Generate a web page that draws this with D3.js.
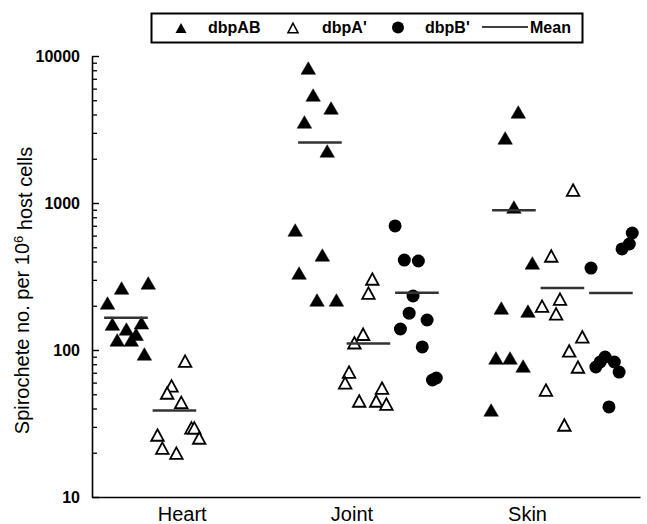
<!DOCTYPE html>
<html>
<head>
<meta charset="utf-8">
<script src="https://cdn.jsdelivr.net/npm/d3@7"></script>
<style>
  body { margin: 0; background: #fff; }
  text { font-family: "Liberation Sans", Arial, Helvetica, sans-serif; }
</style>
</head>
<body>
<svg id="chart" width="647" height="524"></svg>
<script>
// categories and where their labels sit on the x axis (in plot units)
var categories = ["Heart", "Joint", "Skin"];
var categoryTicks = [2.15, 5.65, 9.27];
var groupStart = [1, 5, 9];

var seriesNames = ["dbpAB", "dbpA'", "dbpB'"];

var yTicks = [10, 100, 1000, 10000];

// values (spirochetes per 10^6 host cells)
var heartAB = [286, 264, 209, 150, 139, 153, 128, 117, 117, 94];
var heartA = [84, 57, 51, 44, 29.5, 29.5, 25.2, 26.4, 21.5, 19.9];
var jointAB = [8280, 5430, 4430, 3560, 2260, 655, 443, 334, 219, 219];
var jointA = [304, 244, 128, 112, 70.8, 59.7, 55.1, 45, 45, 42.9];
var jointB = [698, 409, 403, 233, 178, 160, 139, 105, 62.5, 64.5];
var skinAB = [4160, 2770, 939, 391, 193, 184, 88.3, 88.3, 77.8, 39.1];
var skinA = [1225, 436, 222, 199, 176, 123, 98.5, 76.6, 53.4, 30.9];
var skinB = [625, 526, 487, 361, 89.6, 82.9, 76.6, 70.8, 41, 83];

// horizontal scatter of each point around its column
var heartABJitter = [0.46, -0.09, -0.38, -0.28, 0.01, 0.32, 0.21, -0.18, 0.11, 0.38];
var heartAJitter = [0.22, -0.06, -0.15, 0.14, 0.35, 0.41, 0.51, -0.35, -0.25, 0.04];
var jointABJitter = [-0.24, -0.14, 0.23, -0.32, 0.15, -0.51, 0.05, -0.43, -0.06, 0.34];
var jointAJitter = [0.08, 0.00, -0.11, -0.29, -0.40, -0.48, 0.28, -0.19, 0.16, 0.37];
var jointBJitter = [-0.45, -0.26, 0.03, -0.08, -0.16, 0.21, -0.34, 0.11, 0.32, 0.40];
var skinABJitter = [0.09, -0.18, 0.00, 0.38, -0.26, 0.29, -0.37, -0.08, 0.19, -0.47];
var skinAJitter = [0.22, -0.23, -0.05, -0.42, -0.13, 0.41, 0.14, 0.32, -0.34, 0.04];
var skinBJitter = [0.44, 0.38, 0.23, -0.41, -0.12, 0.07, -0.31, 0.17, -0.04, -0.22];

var columns = [
  { group: 0, series: 0, values: heartAB, jitter: heartABJitter },
  { group: 0, series: 1, values: heartA, jitter: heartAJitter },
  { group: 1, series: 0, values: jointAB, jitter: jointABJitter },
  { group: 1, series: 1, values: jointA, jitter: jointAJitter },
  { group: 1, series: 2, values: jointB, jitter: jointBJitter },
  { group: 2, series: 0, values: skinAB, jitter: skinABJitter },
  { group: 2, series: 1, values: skinA, jitter: skinAJitter },
  { group: 2, series: 2, values: skinB, jitter: skinBJitter }
];

var svg = d3.select("#chart");

var x = d3.scaleLinear()
    .domain([0.3, 11.6])
    .range([92, 640]);

var y = d3.scaleLog()
    .domain([10, 10000])
    .range([497, 56]);

function triangle(w, h) {
  return "M0," + (-h / 2) + "L" + (w / 2) + "," + (h / 2) + "L" + (-w / 2) + "," + (h / 2) + "Z";
}

function colX(c) { return groupStart[c.group] + c.series; }

// axes
var minorTicks = [];
yTicks.slice(0, -1).forEach(function (t) {
  for (var k = 2; k <= 9; k++) minorTicks.push(t * k);
});

var yMinor = svg.append("g")
    .attr("transform", "translate(" + x(0.3) + ",0)")
    .call(d3.axisLeft(y).tickValues(minorTicks).tickSize(-5).tickSizeOuter(0).tickFormat(""));
yMinor.select(".domain").remove();
yMinor.selectAll("line").attr("stroke-width", 1.3);

var yAxis = svg.append("g")
    .attr("transform", "translate(" + x(0.3) + ",0)")
    .call(d3.axisLeft(y).tickValues(yTicks).tickSize(-7).tickSizeOuter(0)
      .tickPadding(12).tickFormat(d3.format("d")));
yAxis.select(".domain").attr("stroke-width", 1.6);
yAxis.selectAll("line").attr("stroke-width", 1.4);
yAxis.selectAll("text")
    .style("font-size", "16px")
    .style("font-weight", "bold")
    .attr("fill", "#000");

var xAxis = svg.append("g")
    .attr("transform", "translate(0," + y(10) + ")")
    .call(d3.axisBottom(x).tickValues(categoryTicks).tickSize(0).tickSizeOuter(0)
      .tickPadding(10).tickFormat(function (d, i) { return categories[i]; }));
xAxis.select(".domain").attr("stroke-width", 1.6);
xAxis.selectAll("text")
    .style("font-size", "20px")
    .attr("fill", "#000");

svg.append("text")
    .attr("transform", "translate(22," + ((y(10) + y(10000)) / 2 + 14) + ") rotate(-90)")
    .attr("text-anchor", "middle")
    .attr("dy", "0.35em")
    .style("font-size", "20px")
    .text("Spirochete no. per 10")
    .append("tspan")
    .attr("dy", "-0.45em")
    .style("font-size", "13px")
    .text("6")
    .select(function () { return this.parentNode; })
    .append("tspan")
    .attr("dy", "0.45em")
    .text(" host cells");

// points
var points = svg.append("g");
columns.forEach(function (c) {
  var g = points.append("g");
  var data = c.values.map(function (v, i) { return { v: v, x: colX(c) + c.jitter[i] }; });
  if (c.series === 2) {
    g.selectAll("circle")
      .data(data)
      .enter()
      .append("circle")
      .attr("cx", function (d) { return x(d.x); })
      .attr("cy", function (d) { return y(d.v); })
      .attr("r", 6.5)
      .attr("fill", "#000");
  } else {
    var open = c.series === 1;
    g.selectAll("path")
      .data(data)
      .enter()
      .append("path")
      .attr("transform", function (d) { return "translate(" + x(d.x) + "," + y(d.v) + ")"; })
      .attr("d", open ? triangle(12.5, 11.5) : triangle(14.5, 12.5))
      .attr("fill", open ? "#fff" : "#000")
      .attr("stroke", "#000")
      .attr("stroke-width", open ? 1.8 : 0.5)
      .attr("stroke-linejoin", "miter");
  }
});

// mean lines
svg.append("g")
  .selectAll("line")
  .data(columns)
  .enter()
  .append("line")
  .attr("x1", function (c) { return x(colX(c) - 0.45); })
  .attr("x2", function (c) { return x(colX(c) + 0.45); })
  .attr("y1", function (c) { return y(d3.mean(c.values)); })
  .attr("y2", function (c) { return y(d3.mean(c.values)); })
  .attr("stroke", "#333")
  .attr("stroke-width", 2.5);

// legend
var legend = svg.append("g");
legend.append("rect")
    .attr("x", 151.5)
    .attr("y", 13.5)
    .attr("width", 431)
    .attr("height", 29)
    .attr("fill", "#fff")
    .attr("stroke", "#000")
    .attr("stroke-width", 2);

legend.append("path")
    .attr("transform", "translate(181,28)")
    .attr("d", triangle(11, 10))
    .attr("fill", "#000");
legend.append("path")
    .attr("transform", "translate(293,28)")
    .attr("d", triangle(10, 9.5))
    .attr("fill", "#fff")
    .attr("stroke", "#000")
    .attr("stroke-width", 1.6);
legend.append("circle")
    .attr("cx", 398)
    .attr("cy", 27.5)
    .attr("r", 6)
    .attr("fill", "#000");
legend.append("line")
    .attr("x1", 482)
    .attr("x2", 528)
    .attr("y1", 27)
    .attr("y2", 27)
    .attr("stroke", "#000")
    .attr("stroke-width", 1.5);

var legendLabels = [seriesNames[0], seriesNames[1], seriesNames[2], "Mean"];
var legendLabelX = [208, 322, 425, 530];
legend.selectAll("text")
  .data(legendLabels)
  .enter()
  .append("text")
  .attr("x", function (d, i) { return legendLabelX[i]; })
  .attr("y", 33)
  .style("font-size", "16px")
  .style("font-weight", "bold")
  .text(function (d) { return d; });
</script>
</body>
</html>
